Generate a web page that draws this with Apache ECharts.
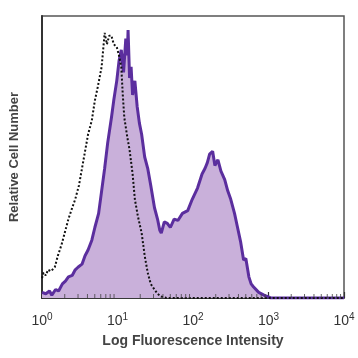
<!DOCTYPE html>
<html><head><meta charset="utf-8">
<script src="https://cdn.jsdelivr.net/npm/echarts@6/dist/echarts.min.js"></script>
<style>html,body{margin:0;padding:0;background:#fff}#c{width:358px;height:358px}</style>
</head><body><div id="c"></div>
<script>
// x values are log10(intensity)
const stainedX = [0.00,0.05,0.10,0.13,0.18,0.22,0.27,0.31,0.35,0.40,0.44,0.48,0.53,0.57,0.61,0.66,0.70,0.75,0.79,0.83,0.87,0.92,0.95,0.99,1.02,1.05,1.08,1.11,1.13,1.14,1.16,1.18,1.20,1.23,1.26,1.29,1.32,1.36,1.40,1.44,1.49,1.53,1.56,1.58,1.62,1.66,1.70,1.75,1.80,1.86,1.93,1.99,2.06,2.12,2.16,2.19,2.22,2.26,2.29,2.33,2.37,2.42,2.46,2.50,2.55,2.59,2.63,2.67,2.70,2.74,2.77,2.80,2.87,2.94,3.03,4.00];
const stainedY = [2,1.5,2.5,1,3,2.5,5,6,7.5,8,10,11,12,15,17,20.5,25,30,38,46,55,64,70,77,84,88,80,92,86,95,78,82,72,77,68,62,58,50,46,40,32,28,24,23,27,26.5,25,28,27.5,30,31,35,39,44,46,48,51,52,47,49,45,42,38,35,30,25,20,13.5,14,7.5,5,4,2,1,0,0];
const controlX = [0.00,0.02,0.05,0.08,0.12,0.17,0.21,0.26,0.30,0.35,0.40,0.44,0.49,0.53,0.57,0.61,0.66,0.70,0.74,0.79,0.81,0.83,0.86,0.89,0.92,0.95,0.99,1.02,1.05,1.07,1.09,1.13,1.16,1.20,1.23,1.27,1.32,1.36,1.40,1.44,1.49,1.53,1.58,1.65,4.00];
const controlY = [7,9,8,10,9.5,11,15,19,23,28,32,35,40,46,52,58,63,70,75,82,88,94,90,93,93,90,89,86,82,72,64,57,52.5,44,35,29,23,15,9,5,3,1.5,0.5,0,0];
const decadeExponents = [0,1,2,3,4];
const minorTickValues = [2,3,4,5,6,7,8,9,20,30,40,50,60,70,80,90,200,300,400,500,600,700,800,900,2000,3000,4000,5000,6000,7000,8000,9000];
const xTitle = 'Log Fluorescence Intensity';
const yTitle = 'Relative Cell Number';

const zip = (a,b) => a.map((v,i)=>[v,b[i]]);
const chart = echarts.init(document.getElementById('c'));
chart.setOption({
  animation:false,
  grid:{left:40,right:14,top:16,bottom:60,show:true,borderColor:'#555',borderWidth:1.5},
  xAxis:{type:'value',min:0,max:4,interval:1,
    axisLine:{show:true,lineStyle:{color:'#222',width:1.5}},
    axisTick:{show:true,inside:true,length:6,lineStyle:{color:'#333',width:1.2}},
    splitLine:{show:false},
    axisLabel:{margin:14,color:'#333',
      formatter:v=>'{b|10}{s|'+decadeExponents[Math.round(v)]+'}',
      rich:{b:{fontSize:14,fontFamily:'Liberation Sans',color:'#333'},
            s:{fontSize:10,fontFamily:'Liberation Sans',color:'#333',padding:[0,0,8,0]}}},
    name:xTitle,nameLocation:'middle',nameGap:36,
    nameTextStyle:{fontSize:14,fontWeight:'bold',color:'#444',fontFamily:'Liberation Sans'}},
  yAxis:{type:'value',min:0,max:100,
    axisLine:{show:true,lineStyle:{color:'#333',width:2}},axisTick:{show:false},axisLabel:{show:false},splitLine:{show:false},
    name:yTitle,nameLocation:'middle',nameGap:21,nameRotate:90,
    nameTextStyle:{fontSize:13,fontWeight:'bold',color:'#444',fontFamily:'Liberation Sans'}},
  series:[
    {type:'line',data:zip(stainedX,stainedY),symbol:'none',smooth:false,
     lineStyle:{color:'#5b2e9e',width:3},areaStyle:{color:'#c9b0da',opacity:1},z:2},
    {type:'line',data:zip(controlX,controlY),symbol:'none',smooth:false,
     lineStyle:{color:'#111',width:2,type:'dotted'},z:3},
    {type:'scatter',data:minorTickValues.map(v=>[Math.log10(v),0]),symbol:'rect',symbolSize:[1,4],symbolOffset:[0,-2],
     itemStyle:{color:'#444'},silent:true,z:4}
  ]
});
</script></body></html>
